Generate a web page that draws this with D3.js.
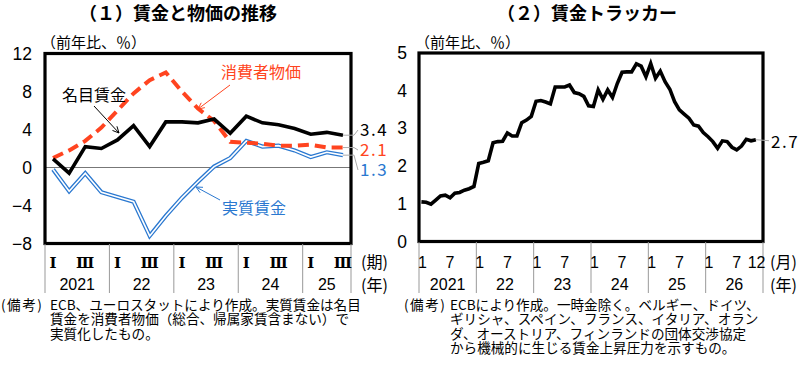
<!DOCTYPE html>
<html>
<head>
<meta charset="utf-8">
<script src="https://cdn.jsdelivr.net/npm/d3@7"></script>
<style>
  body { margin: 0; background: #fff; }
  text { font-family: "Noto Sans CJK JP", sans-serif; }
  .num { font-family: "Liberation Sans Narrow", "Liberation Sans", sans-serif; }
  .roman { font-family: "DejaVu Serif", "Liberation Serif", serif; }
</style>
</head>
<body>
<svg id="chart" width="798" height="365"></svg>
<script>
// (1) quarterly, 2021 Q1 .. 2025 Q3
const qYears = ["2021", "22", "23", "24", "25"];
const qTickLabels = ["Ⅰ", "", "Ⅲ", ""];
const nominalWage = [0.9, -0.6, 2.2, 2.0, 2.9, 4.4, 2.2, 4.8, 4.8, 4.7, 5.1, 3.6, 5.4, 4.7, 4.5, 4.1, 3.5, 3.7, 3.4];
const consumerPrices = [1.0, 1.8, 2.8, 4.2, 6.0, 7.8, 9.2, 10.0, 8.0, 6.2, 4.9, 2.7, 2.6, 2.5, 2.3, 2.3, 2.4, 2.1, 2.1];
const realWage = [-0.2, -2.5, -0.6, -2.6, -3.1, -3.6, -7.2, -5.1, -3.2, -1.5, 0.1, 1.0, 2.8, 2.2, 2.3, 1.8, 1.1, 1.6, 1.3];
const leftTicks = [12, 8, 4, 0, -4, -8];

// (2) monthly, 2021/1 .. 2026/11
const mYears = ["2021", "22", "23", "24", "25", "26"];
const monthTicks = [1, 7];
const wageTracker = [
  1.05, 1.04, 0.99, 1.10, 1.21, 1.23, 1.16, 1.28, 1.30, 1.36, 1.40, 1.46,
  2.07, 2.10, 2.14, 2.62, 2.65, 2.66, 2.88, 2.80, 2.80, 3.15, 3.22, 3.32,
  3.72, 3.74, 3.70, 3.65, 4.10, 4.10, 4.10, 4.15, 3.95, 3.92, 3.85, 3.60,
  3.58, 4.02, 3.77, 4.02, 3.82, 4.19, 4.49, 4.50, 4.50, 4.71, 4.65, 4.37,
  4.72, 4.33, 4.52, 4.24, 4.04, 3.71, 3.49, 3.38, 3.27, 3.09, 3.06, 2.89,
  2.78, 2.65, 2.47, 2.67, 2.65, 2.50, 2.43, 2.53, 2.71, 2.67, 2.70
];
const rightTicks = [5, 4, 3, 2, 1, 0];

const notesL = ["ECB、ユーロスタットにより作成。実質賃金は名目", "賃金を消費者物価（総合、帰属家賃含まない）で", "実質化したもの。"];
const notesR = ["ECBにより作成。一時金除く。ベルギー、ドイツ、", "ギリシャ、スペイン、フランス、イタリア、オラン", "ダ、オーストリア、フィンランドの団体交渉協定", "から機械的に生じる賃金上昇圧力を示すもの。"];

const RED = "#ff4420", BLUE = "#2a78d0";
const svg = d3.select("#chart");

// ---------------- left panel ----------------
const xL = d3.scaleLinear().domain([-0.5, 18.5]).range([45, 351]);
const yL = d3.scaleLinear().domain([-8, 12]).range([243.5, 53.5]);

svg.append("text").attr("x", 178).attr("y", 20).attr("text-anchor", "middle")
  .attr("font-size", 18).attr("font-weight", "bold").text("（１）賃金と物価の推移");
svg.append("text").attr("x", 41).attr("y", 48).attr("font-size", 15).text("（前年比、％）");

svg.append("line").attr("x1", xL(-0.5)).attr("x2", xL(18.5))
  .attr("y1", yL(0)).attr("y2", yL(0)).attr("stroke", "#777").attr("stroke-width", 1);

leftTicks.forEach(v => {
  svg.append("text").attr("class", "num").attr("x", 32).attr("y", yL(v) + 6)
    .attr("text-anchor", "end").attr("font-size", 17.5).text(v < 0 ? "−" + (-v) : v);
});

const lineL = data => d3.line().x((d, i) => xL(i)).y(d => yL(d))(data);

svg.append("path").attr("d", lineL(realWage)).attr("fill", "none")
  .attr("stroke", BLUE).attr("stroke-width", 4.2).attr("stroke-linejoin", "miter");
svg.append("path").attr("d", lineL(realWage)).attr("fill", "none")
  .attr("stroke", "#fff").attr("stroke-width", 1.6).attr("stroke-linejoin", "miter");
svg.append("path").attr("d", lineL(consumerPrices)).attr("fill", "none")
  .attr("stroke", RED).attr("stroke-width", 4).attr("stroke-dasharray", "11,6");
svg.append("path").attr("d", lineL(nominalWage)).attr("fill", "none")
  .attr("stroke", "#000").attr("stroke-width", 3.6).attr("stroke-linejoin", "miter");

svg.append("rect").attr("x", xL(-0.5)).attr("y", yL(12))
  .attr("width", xL(18.5) - xL(-0.5)).attr("height", yL(-8) - yL(12))
  .attr("fill", "none").attr("stroke", "#000").attr("stroke-width", 3.2);

// series labels with arrows
function arrow(x1, y1, x2, y2, color) {
  svg.append("line").attr("x1", x1).attr("y1", y1).attr("x2", x2).attr("y2", y2)
    .attr("stroke", color).attr("stroke-width", 1);
  const a = Math.atan2(y2 - y1, x2 - x1), L = 7;
  [0.45, -0.45].forEach(da => {
    svg.append("line").attr("x1", x2).attr("y1", y2)
      .attr("x2", x2 - L * Math.cos(a + da)).attr("y2", y2 - L * Math.sin(a + da))
      .attr("stroke", color).attr("stroke-width", 1);
  });
}
svg.append("text").attr("x", 62).attr("y", 101).attr("font-size", 16).text("名目賃金");
arrow(94, 106, 119, 133, "#000");
svg.append("text").attr("x", 221).attr("y", 78).attr("font-size", 16).attr("fill", RED).text("消費者物価");
arrow(230, 85, 198, 109, RED);
svg.append("text").attr("x", 222).attr("y", 214).attr("font-size", 16).attr("fill", BLUE).text("実質賃金");
arrow(220, 200, 196, 187, BLUE);

// end values
const endL = [
  { v: nominalWage[18], y: 130, c: "#000" },
  { v: consumerPrices[18], y: 150, c: RED },
  { v: realWage[18], y: 170, c: BLUE }
];
endL.forEach(e => {
  svg.append("polyline").attr("points", `${xL(18)},${yL(e.v)} ${354},${yL(e.v)} ${358},${e.y}`)
    .attr("fill", "none").attr("stroke", "#aaa").attr("stroke-width", 1);
  svg.append("text").attr("x", 360).attr("y", e.y + 6).attr("font-size", 17)
    .attr("letter-spacing", 1.5).attr("fill", e.c).text(e.v.toFixed(1));
});

// x axis table
[0, 4, 8, 12, 16, 19].forEach(q => {
  const x = xL(q - 0.5);
  svg.append("line").attr("x1", x).attr("x2", x).attr("y1", 244).attr("y2", 293)
    .attr("stroke", "#999").attr("stroke-width", 1);
});
d3.range(19).forEach(i => {
  const t = qTickLabels[i % 4];
  if (t) svg.append("text").attr("class", "roman").attr("x", xL(i)).attr("y", 268)
    .attr("text-anchor", "middle").attr("font-size", 15).attr("font-weight", "bold").text(t);
});
qYears.forEach((y, k) => {
  const x0 = xL(k * 4 - 0.5), x1 = xL(Math.min(k * 4 + 3.5, 18.5));
  svg.append("text").attr("class", "num").attr("x", (x0 + x1) / 2).attr("y", 290)
    .attr("text-anchor", "middle").attr("font-size", 16).text(y);
});
svg.append("text").attr("x", 361).attr("y", 268).attr("font-size", 16).text("(期)");
svg.append("text").attr("x", 361).attr("y", 291).attr("font-size", 16).text("(年)");

// ---------------- right panel ----------------
const xR = d3.scaleLinear().domain([-0.5, 71.5]).range([419, 763]);
const yR = d3.scaleLinear().domain([0, 5]).range([241.5, 53]);

svg.append("text").attr("x", 587).attr("y", 20).attr("text-anchor", "middle")
  .attr("font-size", 18).attr("font-weight", "bold").text("（２）賃金トラッカー");
svg.append("text").attr("x", 415).attr("y", 48).attr("font-size", 15).text("（前年比、％）");

rightTicks.forEach(v => {
  svg.append("text").attr("class", "num").attr("x", 407).attr("y", yR(v) + 6)
    .attr("text-anchor", "end").attr("font-size", 17.5).text(v);
});

svg.append("path").attr("d", d3.line().x((d, i) => xR(i)).y(d => yR(d))(wageTracker))
  .attr("fill", "none").attr("stroke", "#000").attr("stroke-width", 3.6).attr("stroke-linejoin", "miter");

svg.append("rect").attr("x", xR(-0.5)).attr("y", yR(5))
  .attr("width", xR(71.5) - xR(-0.5)).attr("height", yR(0) - yR(5))
  .attr("fill", "none").attr("stroke", "#000").attr("stroke-width", 3.2);

const lastR = wageTracker[wageTracker.length - 1];
svg.append("line").attr("x1", xR(70)).attr("x2", 769).attr("y1", yR(lastR)).attr("y2", yR(lastR) + 1)
  .attr("stroke", "#aaa").attr("stroke-width", 1);
svg.append("text").attr("x", 771).attr("y", yR(lastR) + 8).attr("font-size", 17)
  .attr("letter-spacing", 1.5).text(lastR.toFixed(1));

d3.range(0, 73, 12).forEach(m => {
  const x = xR(m - 0.5);
  svg.append("line").attr("x1", x).attr("x2", x).attr("y1", 242).attr("y2", 293)
    .attr("stroke", "#999").attr("stroke-width", 1);
});
mYears.forEach((y, k) => {
  monthTicks.forEach(mt => {
    svg.append("text").attr("class", "num").attr("x", xR(k * 12 + mt - 1) + (mt === 1 ? 1 : 0)).attr("y", 268)
      .attr("text-anchor", "middle").attr("font-size", 16).text(mt);
  });
  svg.append("text").attr("class", "num").attr("x", xR(k * 12 + 5.5)).attr("y", 290)
    .attr("text-anchor", "middle").attr("font-size", 16).text(y);
});
svg.append("text").attr("class", "num").attr("x", xR(71) - 4).attr("y", 268)
  .attr("text-anchor", "middle").attr("font-size", 16).text("12");
svg.append("text").attr("x", 770).attr("y", 268).attr("font-size", 16).text("(月)");
svg.append("text").attr("x", 770).attr("y", 291).attr("font-size", 16).text("(年)");

// ---------------- notes ----------------
svg.append("text").attr("x", 1).attr("y", 310).attr("font-size", 13.6).attr("letter-spacing", 1.5).text("(備考)");
notesL.forEach((t, i) => svg.append("text").attr("x", 50).attr("y", 310 + i * 14.3).attr("font-size", 13.6).text(t));
svg.append("text").attr("x", 404).attr("y", 310).attr("font-size", 13.6).attr("letter-spacing", 1.5).text("(備考)");
notesR.forEach((t, i) => svg.append("text").attr("x", 450).attr("y", 310 + i * 14.3).attr("font-size", 13.6).text(t));
</script>
</body>
</html>
